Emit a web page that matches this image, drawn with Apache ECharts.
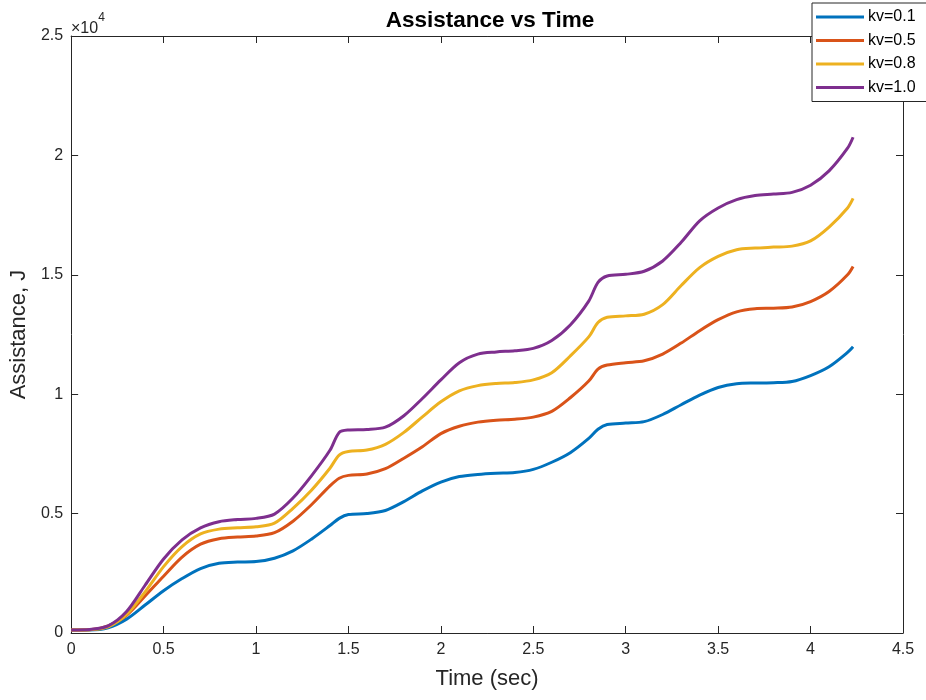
<!DOCTYPE html>
<html>
<head>
<meta charset="utf-8">
<script src="https://cdn.jsdelivr.net/npm/echarts@6/dist/echarts.min.js"></script>
<style>html,body{margin:0;padding:0;background:#fff;}#c{width:926px;height:700px;}</style>
</head>
<body>
<div id="c"></div>
<script>
var time = [0, 0.1, 0.2, 0.3, 0.4, 0.5, 0.6, 0.7, 0.8, 0.9, 1.0, 1.1, 1.2, 1.3, 1.4, 1.45, 1.5, 1.6, 1.7, 1.8, 1.9, 2.0, 2.1, 2.2, 2.3, 2.4, 2.5, 2.6, 2.7, 2.8, 2.85, 2.9, 3.0, 3.1, 3.2, 3.3, 3.4, 3.5, 3.6, 3.7, 3.8, 3.9, 4.0, 4.1, 4.2, 4.23];
var kv01 = [130, 130, 220, 580, 1170, 1770, 2280, 2700, 2920, 2970, 2990, 3130, 3440, 3930, 4500, 4800, 4960, 5000, 5130, 5500, 5950, 6320, 6550, 6640, 6690, 6720, 6850, 7150, 7550, 8150, 8530, 8730, 8790, 8850, 9150, 9560, 9960, 10280, 10440, 10470, 10480, 10530, 10780, 11150, 11750, 11990];
var kv05 = [130, 140, 300, 740, 1550, 2380, 3180, 3720, 3950, 4020, 4060, 4200, 4680, 5370, 6160, 6480, 6600, 6660, 6880, 7320, 7800, 8350, 8660, 8830, 8910, 8950, 9040, 9280, 9850, 10550, 11050, 11220, 11320, 11400, 11680, 12140, 12660, 13120, 13450, 13580, 13600, 13650, 13880, 14300, 15000, 15350];
var kv08 = [130, 140, 260, 780, 1720, 2780, 3620, 4150, 4350, 4410, 4450, 4600, 5220, 5980, 6900, 7450, 7600, 7660, 7900, 8400, 9050, 9680, 10140, 10360, 10450, 10490, 10600, 10900, 11600, 12400, 13000, 13220, 13280, 13350, 13750, 14550, 15300, 15770, 16050, 16120, 16160, 16200, 16420, 17000, 17800, 18200];
var kv10 = [130, 150, 300, 900, 2000, 3100, 3900, 4400, 4660, 4750, 4800, 4980, 5650, 6580, 7650, 8400, 8500, 8520, 8620, 9100, 9820, 10600, 11320, 11680, 11770, 11820, 11920, 12250, 12900, 13900, 14680, 14950, 15020, 15150, 15580, 16360, 17260, 17800, 18150, 18320, 18380, 18450, 18750, 19350, 20300, 20760];
var seriesNames = ['kv=0.1', 'kv=0.5', 'kv=0.8', 'kv=1.0'];
var seriesColors = ['#0072BD', '#D95319', '#EDB120', '#7E2F8E'];
var xTicks = [0, 4.5, 0.5];
var yTicks = [0, 25000, 5000];

function pairs(vals) { return time.map(function (t, i) { return [t, vals[i]]; }); }
var allVals = [kv01, kv05, kv08, kv10];
var FONT = 'Liberation Sans, Arial, sans-serif';
var AX = '#262626';

var chart = echarts.init(document.getElementById('c'), null, { renderer: 'canvas' });
var series = allVals.map(function (v, i) {
  return {
    name: seriesNames[i], type: 'line', data: pairs(v), showSymbol: false, symbol: 'none',
    smooth: 0.3,
    lineStyle: { width: 3, color: seriesColors[i] },
    itemStyle: { color: seriesColors[i] }
  };
});
chart.setOption({
  animation: false,
  backgroundColor: '#ffffff',
  title: {
    text: 'Assistance vs Time', left: 485, top: 4, textAlign: 'center',
    textStyle: { fontFamily: FONT, fontSize: 22.5, fontWeight: 'bold', color: '#000' }
  },
  legend: {
    left: 812, top: 3, orient: 'vertical', icon: 'rect', itemWidth: 48, itemHeight: 3,
    itemGap: 7.5, padding: [6, 12, 6, 4], borderColor: '#262626', borderWidth: 1,
    backgroundColor: '#fff',
    textStyle: { fontFamily: FONT, fontSize: 16, color: '#000', padding: [0, 0, 0, -1] },
    data: seriesNames
  },
  graphic: [{
    type: 'text', left: 71, top: 12,
    style: {
      text: '{a|×10}{b|4}', fill: AX,
      rich: { a: { fontFamily: FONT, fontSize: 16, fill: AX, verticalAlign: 'bottom', padding: [9, 0, 0, 0] },
              b: { fontFamily: FONT, fontSize: 12, fill: AX, verticalAlign: 'top' } }
    }
  }],
  grid: { left: 70, right: 23, top: 36, bottom: 67, containLabel: false },
  xAxis: [{
    type: 'value', min: xTicks[0], max: xTicks[1], interval: xTicks[2],
    name: 'Time (sec)', nameLocation: 'middle', nameGap: 35,
    nameTextStyle: { fontFamily: FONT, fontSize: 22, color: AX },
    axisLine: { show: true, onZero: false, lineStyle: { color: AX, width: 1 } },
    axisTick: { show: true, inside: true, length: 7, lineStyle: { color: AX } },
    axisLabel: { fontFamily: FONT, fontSize: 16, color: AX, margin: 9 },
    splitLine: { show: false }
  }, {
    type: 'value', position: 'top', min: xTicks[0], max: xTicks[1], interval: xTicks[2],
    axisLine: { show: true, onZero: false, lineStyle: { color: AX, width: 1 } },
    axisTick: { show: true, inside: true, length: 7, lineStyle: { color: AX } },
    axisLabel: { show: false }, splitLine: { show: false }
  }],
  yAxis: [{
    type: 'value', min: yTicks[0], max: yTicks[1], interval: yTicks[2],
    name: 'Assistance, J', nameLocation: 'middle', nameGap: 37, nameRotate: 90,
    nameTextStyle: { fontFamily: FONT, fontSize: 22, color: AX },
    axisLine: { show: true, onZero: false, lineStyle: { color: AX, width: 1 } },
    axisTick: { show: true, inside: true, length: 7, lineStyle: { color: AX } },
    axisLabel: { fontFamily: FONT, fontSize: 16, color: AX, margin: 8,
      formatter: function (v) { return String(v / 10000); } },
    splitLine: { show: false }
  }, {
    type: 'value', position: 'right', min: yTicks[0], max: yTicks[1], interval: yTicks[2],
    axisLine: { show: true, onZero: false, lineStyle: { color: AX, width: 1 } },
    axisTick: { show: true, inside: true, length: 7, lineStyle: { color: AX } },
    axisLabel: { show: false }, splitLine: { show: false }
  }],
  series: series
});
</script>
</body>
</html>
